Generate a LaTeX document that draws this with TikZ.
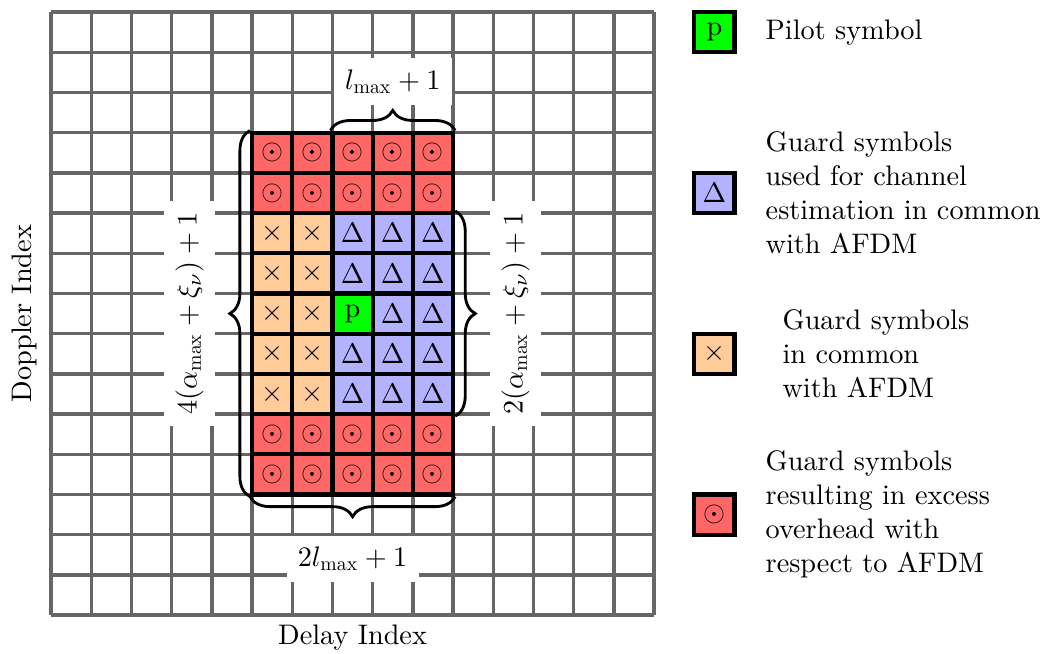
\documentclass[tikz,border=0pt]{standalone}
\usepackage{amssymb}
\usepackage{amsmath}
\usepackage{fontspec}
\setmainfont{lmroman10-regular.otf}
\usetikzlibrary{decorations.pathreplacing,positioning}
\newcommand{\dblmath}[1]{\scalebox{2}{\normalsize$#1$}}

\begin{document}
\begin{tikzpicture}[font=\fontsize{20}{24}\selectfont,
    cell/.style = {shape=rectangle, draw, line width=3pt, minimum size=1cm, inner sep=0pt},
    excess/.style = {cell, fill=red!60},
    common/.style = {cell, fill=orange!40},
    chest/.style = {cell, fill=blue!30},
    pilot/.style = {cell, fill=green},
    brace/.style = {decorate, decoration={brace, amplitude=0.5cm}, line width=2pt},
    dimlabel/.style = {fill=white, inner sep=8pt, minimum height=1cm},
    legtext/.style = {anchor=west, align=left}]
    \useasboundingbox (-1.27,-0.945) rectangle (24.65,15.3);
    \draw[line width=2.4pt, black!60] (0,0) grid (15,15);
    \foreach \c in {5,...,9}
        \foreach \r in {3,4,10,11}
            \node[excess] (cell-\c-\r) at (\c+0.5,14.5-\r) {\dblmath{\odot}};
    \foreach \c in {5,6}
        \foreach \r in {5,...,9}
            \node[common] (cell-\c-\r) at (\c+0.5,14.5-\r) {\dblmath{\times}};
    \foreach \c in {7,8,9}
        \foreach \r in {5,...,9}{
            \ifnum\c\r=77 \node[pilot] (cell-\c-\r) at (\c+0.5,14.5-\r) {p};
            \else \node[chest] (cell-\c-\r) at (\c+0.5,14.5-\r) {\dblmath{\Delta}};
            \fi}
    \draw[brace] (cell-7-3.north west) -- (cell-9-3.north east)
        node[dimlabel, midway, above=0.6cm] (toplabel) {\dblmath{l_{\max}+1}};
    \draw[brace] (cell-9-11.south east) -- (cell-5-11.south west)
        node[dimlabel, midway, below=0.94cm] (bottomlabel) {\dblmath{2l_{\max}+1}};
    \draw[brace] (cell-5-11.south west) -- (cell-5-3.north west)
        node[dimlabel, midway, xshift=-1.5cm, rotate=90] (leftlabel) {\dblmath{4(\alpha_{\max}+\xi_{\nu})+1}};
    \draw[brace] (cell-9-5.north east) -- (cell-9-9.south east)
        node[dimlabel, midway, xshift=1.5cm, rotate=90] (rightlabel) {\dblmath{2(\alpha_{\max}+\xi_{\nu})+1}};
    \node (delayidx) at (7.5,-0.55) {Delay Index};
    \node[rotate=90] (doppleridx) at (-0.65,7.5) {Doppler Index};
    \node[pilot] (legpilot) at (16.5,14.5) {p};
    \node[chest] (legchest) at (16.5,10.5) {\dblmath{\Delta}};
    \node[common] (legcommon) at (16.5,6.5) {\dblmath{\times}};
    \node[excess] (legexcess) at (16.5,2.5) {\dblmath{\odot}};
    \node[legtext, right=0.6cm of legpilot] (pilottxt) {Pilot symbol};
    \node[legtext, right=0.6cm of legchest] (chesttxt) {Guard symbols\\used for channel\\estimation in common\\with AFDM};
    \node[legtext, right=1.02cm of legcommon] (commontxt) {Guard symbols\\in common\\with AFDM};
    \node[legtext, right=0.6cm of legexcess] (excesstxt) {Guard symbols\\resulting in excess\\overhead with\\respect to AFDM};
\end{tikzpicture}
\end{document}
